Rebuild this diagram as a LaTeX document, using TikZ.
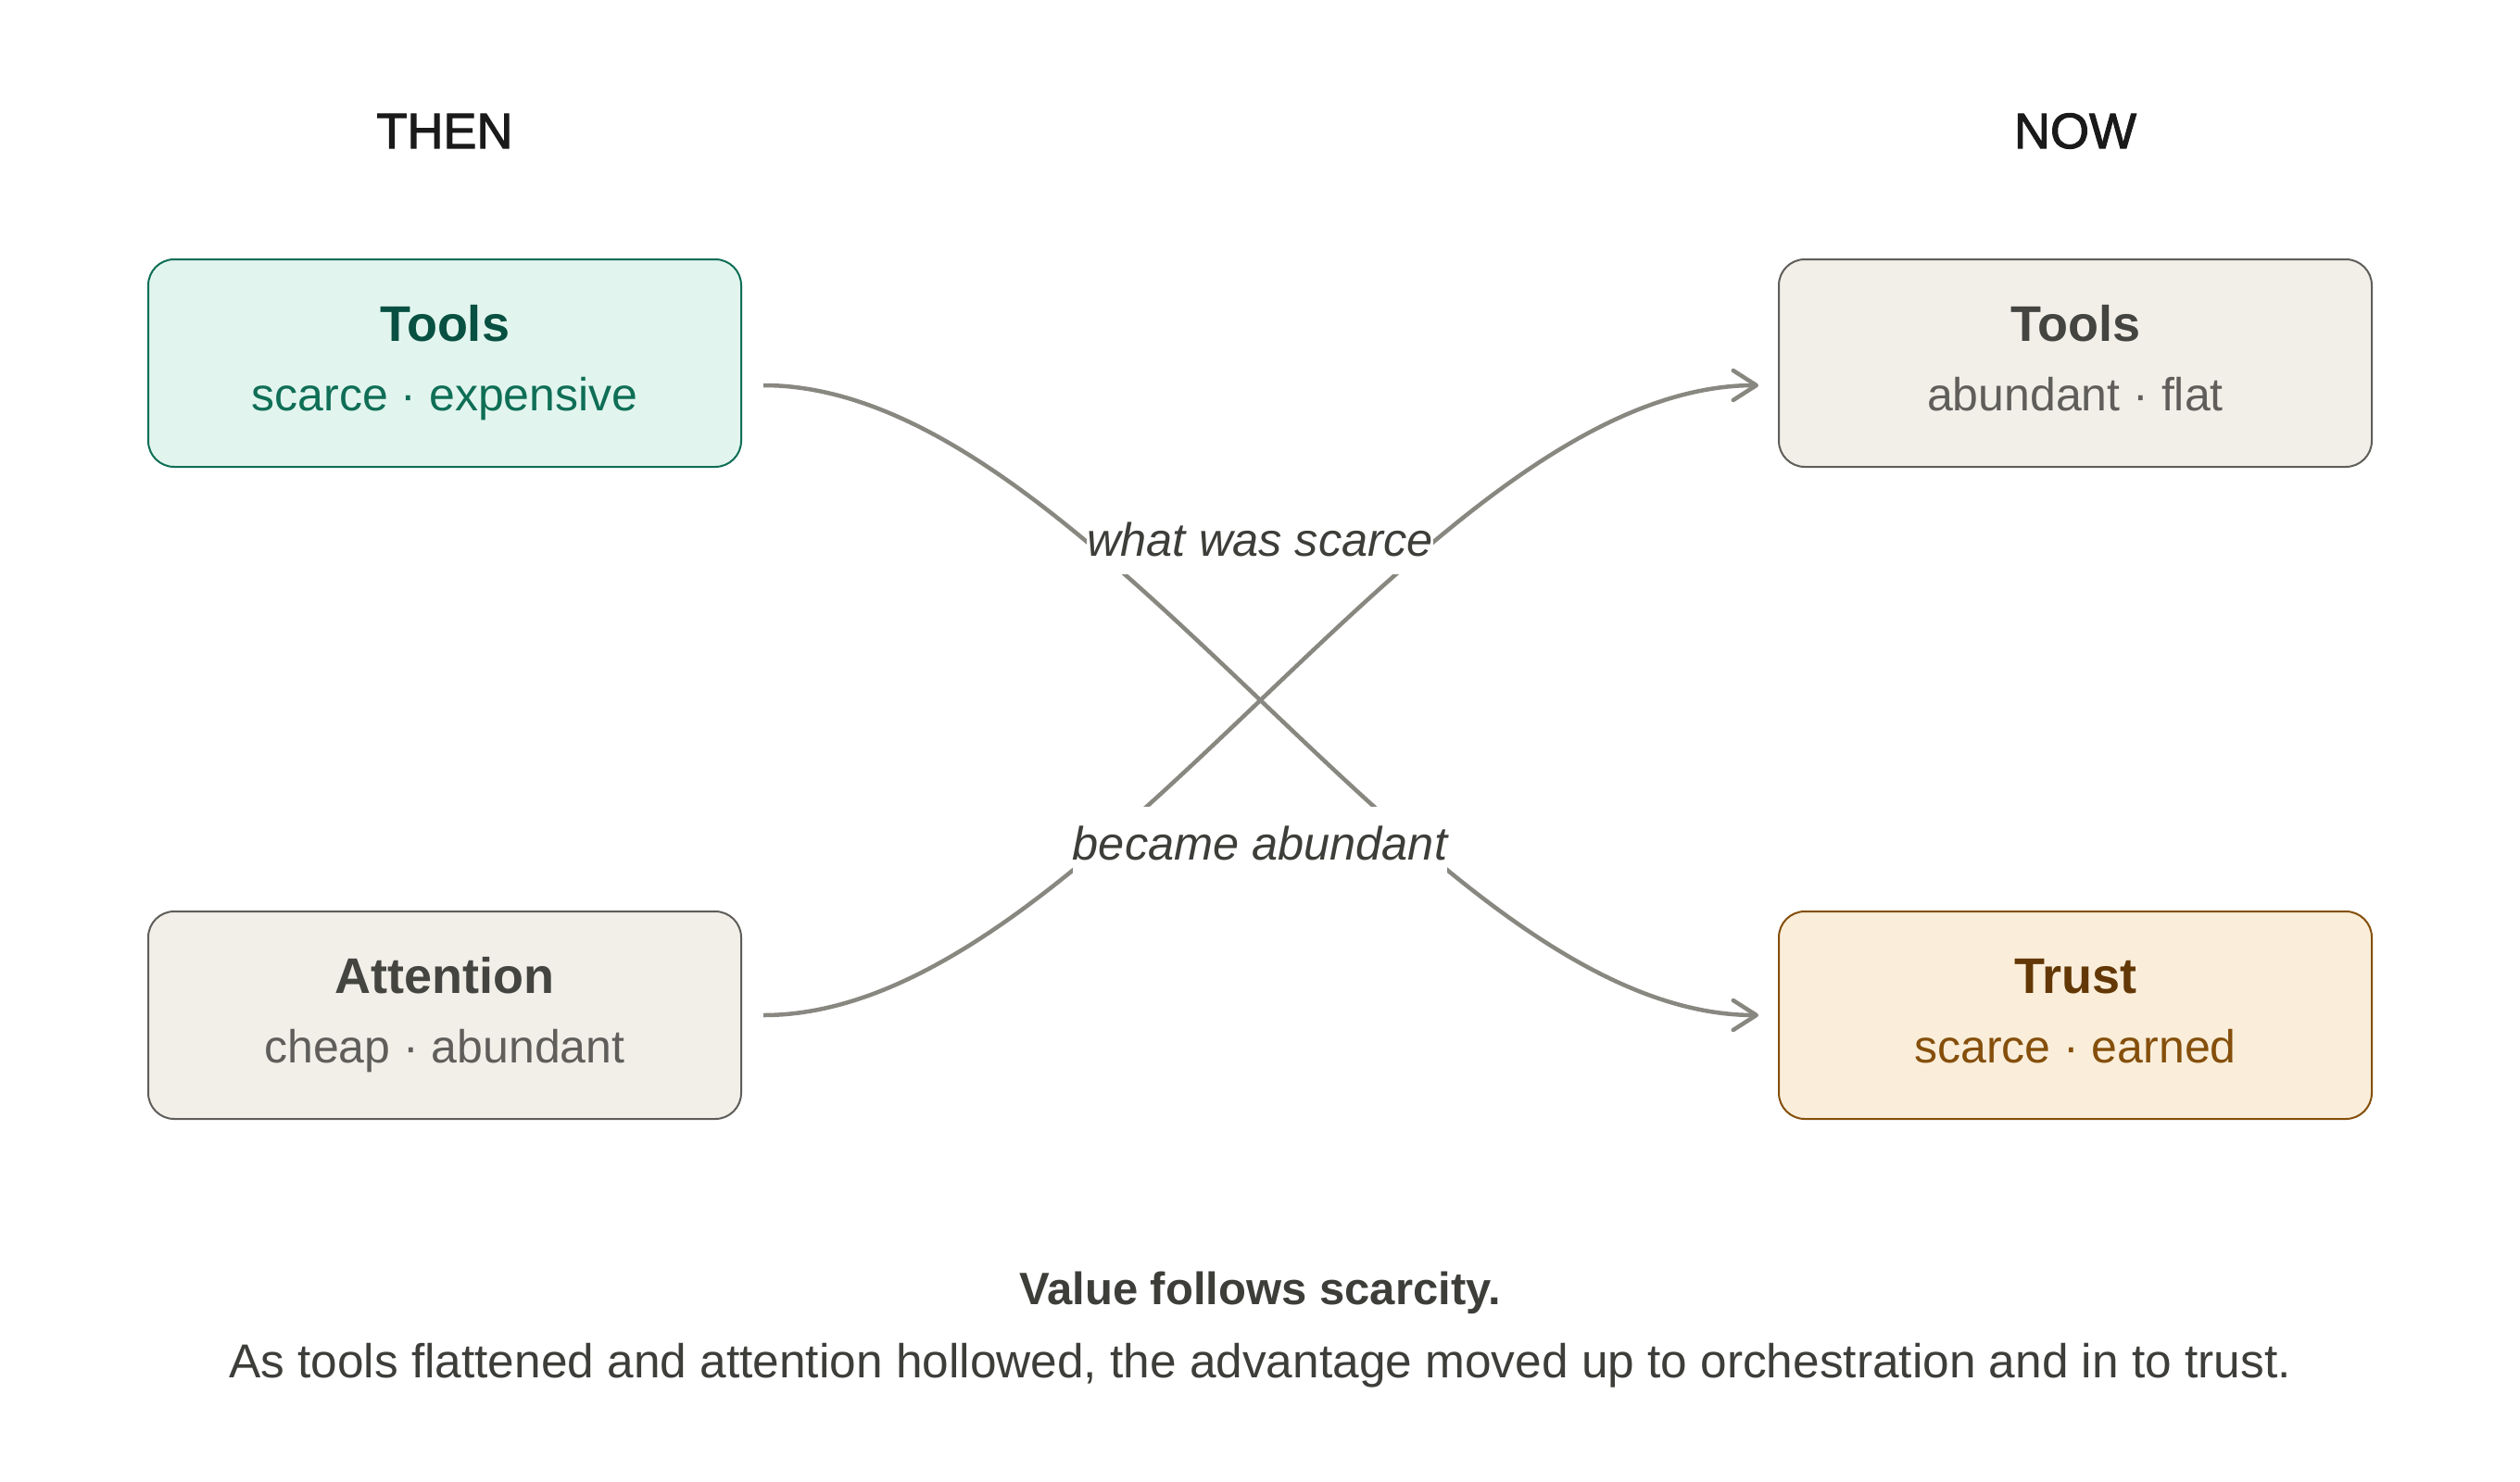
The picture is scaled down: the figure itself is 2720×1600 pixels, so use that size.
\documentclass[tikz,border=0pt]{standalone}
\usepackage{fontspec}
\setmainfont{Liberation Sans}
\newfontfamily\medfont{Liberation Sans}[FakeBold=2]
\usetikzlibrary{arrows.meta,calc}
\definecolor{tealfill}{HTML}{E1F5EE}
\definecolor{tealline}{HTML}{0F6E56}
\definecolor{tealtitle}{HTML}{085041}
\definecolor{grayfill}{HTML}{F1EFE8}
\definecolor{grayline}{HTML}{5F5E5A}
\definecolor{graytitle}{HTML}{444441}
\definecolor{amberfill}{HTML}{FAEEDA}
\definecolor{amberline}{HTML}{854F0B}
\definecolor{ambertitle}{HTML}{633806}
\definecolor{arrowgray}{HTML}{888780}
\definecolor{labelgray}{HTML}{3D3D3A}
\definecolor{headblack}{HTML}{1A1A1A}
\newcommand{\fsz}[1]{\fontsize{#1pt}{#1pt}\selectfont}
\begin{document}
\begin{tikzpicture}[x=1pt,y=-1pt,
  box/.style={draw, line width=2pt, rounded corners=28pt, minimum width=640pt,
    minimum height=224pt, inner sep=0pt, outer sep=0pt},
  ttl/.style={anchor=base, inner sep=0pt, font=\bfseries\fsz{54}},
  sub/.style={anchor=base, inner sep=0pt, font=\fsz{50}},
  head/.style={anchor=base, inner sep=0pt, font=\medfont\fsz{54}, text=headblack},
  conn/.style={draw=arrowgray, line width=4.5pt,
    -{Straight Barb[length=25pt,width=32pt,round]}},
  lbl/.style={fill=white, inner xsep=0pt, inner ysep=0pt, text height=57pt,
    text depth=20pt, font=\itshape\fsz{50.5}, text=labelgray},
  foot/.style={anchor=base, inner sep=0pt, text=labelgray}]
\fill[white] (0,0) rectangle (2720,1600);
\useasboundingbox (0,0) rectangle (2720,1600);

% column headers
\node[head] (then) at (480,160) {THEN};
\node[head] (now) at (2240,160) {NOW};

% boxes
\node[box, fill=tealfill, draw=tealline] (tl) at (480,392) {};
\node[box, fill=grayfill, draw=grayline] (bl) at (480,1096) {};
\node[box, fill=grayfill, draw=grayline] (tr) at (2240,392) {};
\node[box, fill=amberfill, draw=amberline] (br) at (2240,1096) {};

\node[ttl, text=tealtitle] (tlt) at ($(tl.center)+(0,-24)$) {Tools};
\node[sub, text=tealline] (tls) at ($(tl.center)+(0,51)$) {scarce · expensive};
\node[ttl, text=graytitle] (blt) at ($(bl.center)+(0,-24)$) {Attention};
\node[sub, text=grayline] (bls) at ($(bl.center)+(0,51)$) {cheap · abundant};
\node[ttl, text=graytitle] (trt) at ($(tr.center)+(0,-24)$) {Tools};
\node[sub, text=grayline] (trs) at ($(tr.center)+(0,51)$) {abundant · flat};
\node[ttl, text=ambertitle] (brt) at ($(br.center)+(0,-24)$) {Trust};
\node[sub, text=amberline] (brs) at ($(br.center)+(0,51)$) {scarce · earned};

% connector end points
\coordinate (p1) at ($(tl.east)+(24,24)$);
\coordinate (p2) at ($(br.west)+(-22,0)$);
\coordinate (p3) at ($(bl.east)+(24,0)$);
\coordinate (p4) at ($(tr.west)+(-22,24)$);

\draw[conn] (p1) .. controls +(358,0) and +(-358,0) .. (p2);
\draw[conn] (p3) .. controls +(358,0) and +(-358,0) .. (p4);

% labels
\node[lbl] (lab1) at (1360,581.5) {what was scarce};
\node[lbl] (lab2) at (1360,909.5) {became abundant};

% footer
\node[foot, font=\bfseries\fsz{49}] (cap1) at (1360,1408) {Value follows scarcity.};
\node[foot, font=\fsz{51.4}] (cap2) at (1360,1487) {As tools flattened and attention hollowed, the advantage moved up to orchestration and in to trust.};
\end{tikzpicture}
\end{document}
